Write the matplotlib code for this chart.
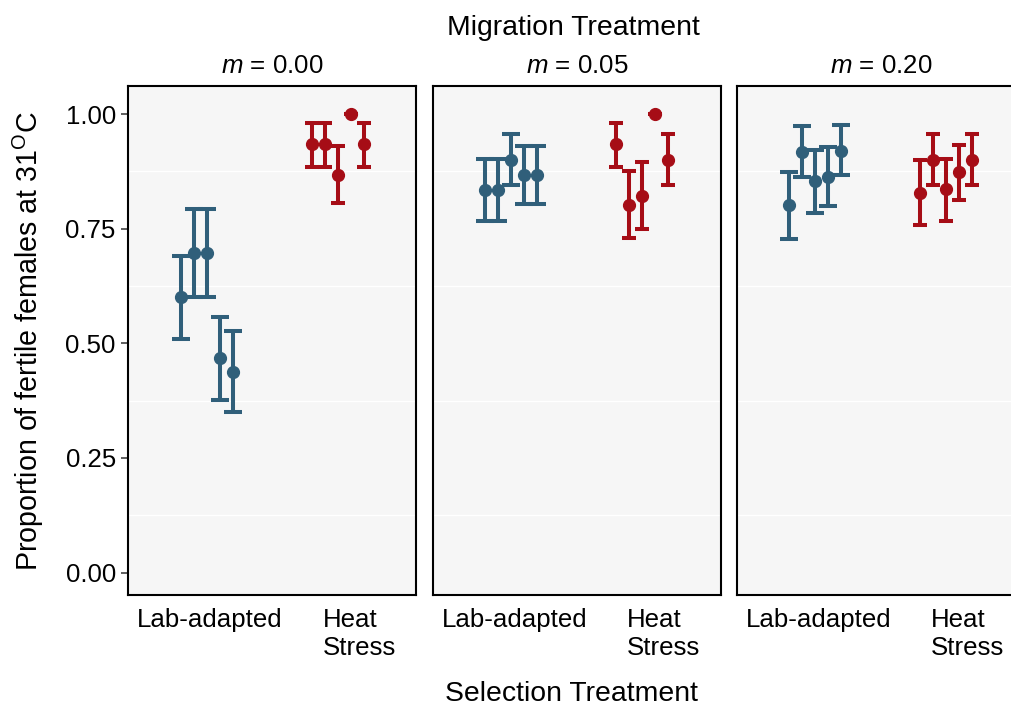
import numpy as np
import matplotlib
matplotlib.use('Agg')
import matplotlib.pyplot as plt

plt.rcParams['font.family'] = 'Liberation Sans'
plt.rcParams['mathtext.fontset'] = 'custom'
plt.rcParams['mathtext.rm'] = 'Liberation Sans'
plt.rcParams['mathtext.it'] = 'Liberation Sans:italic'

#facets and categories
migration = ['0.00', '0.05', '0.20']
selection = ['Lab-adapted', 'Heat\nStress']

#proportion fertile, one row per migration level, 5 replicate lines each
lab_mean = [[0.600, 0.696, 0.696, 0.467, 0.437],
            [0.834, 0.834, 0.901, 0.868, 0.868],
            [0.801, 0.918, 0.854, 0.863, 0.920]]
lab_lo = [[0.510, 0.600, 0.600, 0.376, 0.350],
          [0.766, 0.766, 0.846, 0.805, 0.805],
          [0.727, 0.862, 0.785, 0.799, 0.867]]
lab_hi = [[0.691, 0.793, 0.793, 0.557, 0.526],
          [0.903, 0.903, 0.956, 0.930, 0.930],
          [0.874, 0.974, 0.921, 0.929, 0.976]]

heat_mean = [[0.934, 0.934, 0.868, 1.000, 0.934],
             [0.934, 0.801, 0.822, 1.000, 0.901],
             [0.828, 0.901, 0.836, 0.873, 0.901]]
heat_lo = [[0.885, 0.885, 0.806, 1.000, 0.885],
           [0.885, 0.729, 0.750, 1.000, 0.846],
           [0.758, 0.846, 0.766, 0.812, 0.846]]
heat_hi = [[0.980, 0.980, 0.931, 1.000, 0.980],
           [0.980, 0.876, 0.896, 1.000, 0.956],
           [0.900, 0.956, 0.903, 0.932, 0.956]]

blue = '#305f7a'
red = '#a60d16'
dodge = np.array([-0.2, -0.1, 0.0, 0.1, 0.2])

fig = plt.figure(figsize=(10.12, 7.06), dpi=100)

lefts = [128.3 / 1012, 432.7 / 1012, 736.7 / 1012]
bottom = (706 - 595) / 706
width = 288 / 1012
height = (595 - 85.7) / 706

for i, m in enumerate(migration):
	ax = fig.add_axes([lefts[i], bottom, width, height])
	ax.set_facecolor('#f6f6f6')

	groups = [(lab_mean[i], lab_lo[i], lab_hi[i], blue, 6.3),
	          (heat_mean[i], heat_lo[i], heat_hi[i], red, 4.8)]
	for j, (mean, lo, hi, col, cap) in enumerate(groups):
		mean = np.array(mean)
		err = [mean - np.array(lo), np.array(hi) - mean]
		x = j + 1 + dodge
		ax.errorbar(x, mean, yerr=err, fmt='o', color=col, ms=8.5,
		            elinewidth=2.9, capsize=cap, capthick=2.9, zorder=3)

	ax.set_xlim(0.4, 2.6)
	ax.set_ylim(-0.049, 1.062)
	ax.set_xticks([])
	ax.set_yticks([0, 0.25, 0.5, 0.75, 1.0])
	ax.set_yticks([0.125, 0.375, 0.625, 0.875], minor=True)
	ax.grid(which='minor', axis='y', color='white', lw=1.0)
	ax.tick_params(which='minor', length=0)
	ax.set_axisbelow(True)
	for s in ax.spines.values():
		s.set_linewidth(1.5)
		s.set_color('black')

	if i == 0:
		ax.set_yticklabels(['0.00', '0.25', '0.50', '0.75', '1.00'])
		ax.tick_params(axis='y', which='major', length=5, width=1.1,
		               color='#333333', labelsize=18.6, pad=4)
	else:
		ax.tick_params(axis='y', which='major', length=0, labelleft=False)

	#category labels, left aligned lines
	ax.text(0.031, -0.025, selection[0], transform=ax.transAxes,
	        ha='left', va='top', fontsize=18.6)
	ax.text(0.675, -0.025, selection[1], transform=ax.transAxes,
	        ha='left', va='top', fontsize=18.6, linespacing=1.22)

	#facet strip
	ax.text(0.5, 1.0255, r'$m$ = ' + m, transform=ax.transAxes,
	        ha='center', va='baseline', fontsize=18.6)

fig.text(573 / 1012, 1 - 35 / 706, 'Migration Treatment', ha='center',
         va='baseline', fontsize=20.4)
fig.text(572 / 1012, 5 / 706, 'Selection Treatment', ha='center',
         va='baseline', fontsize=20.4)
fig.text(28.3 / 1012, 0.5173, r'Proportion of fertile females at 31$^{\mathrm{O}}$C',
         rotation=90, ha='center', va='center', fontsize=20.6)

fig.savefig('out.png', dpi=100)
